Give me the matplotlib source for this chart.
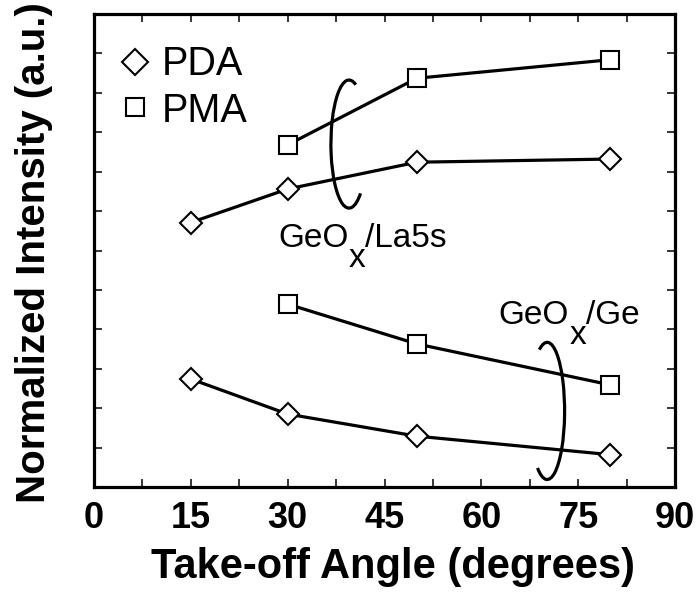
import matplotlib
matplotlib.use("Agg")
import matplotlib.pyplot as plt
from matplotlib.patches import Arc

plt.rcParams["font.family"] = ["Liberation Sans", "DejaVu Sans"]

# Take-off angle (degrees)
angle_pda = [15, 30, 50, 80]
angle_pma = [30, 50, 80]

# GeOx/La5s intensity ratio
la_pda = [6.71, 7.56, 8.24, 8.32]
la_pma = [8.68, 10.37, 10.84]

# GeOx/Ge intensity ratio
ge_pda = [2.74, 1.85, 1.29, 0.82]
ge_pma = [4.64, 3.63, 2.59]

xticks = [0, 15, 30, 45, 60, 75, 90]

fig = plt.figure(figsize=(6.98, 5.94), dpi=100)
ax = fig.add_axes([94 / 698, 1 - 487 / 594, 581 / 698, 473 / 594])

lw = 2.3
dia = dict(marker="D", ms=11.2, mfc="white", mec="black", mew=1.5, color="black")
sq = dict(marker="s", ms=12.3, mfc="white", mec="black", mew=1.5, color="black")

ax.plot(angle_pda, la_pda, lw=lw, zorder=3, **dia)
ax.plot(angle_pma, la_pma, lw=lw, zorder=3, **sq)
ax.plot(angle_pda, ge_pda, lw=lw, zorder=3, **dia)
ax.plot(angle_pma, ge_pma, lw=lw, zorder=3, **sq)

# Grouping ellipses
ax.add_patch(Arc((39.5, 8.7), 5.6, 3.25, theta1=55, theta2=325,
                 lw=lw, color="black", zorder=2))
ax.add_patch(Arc((70.2, 1.93), 5.4, 3.48, theta1=-136, theta2=128,
                 lw=lw, color="black", zorder=2))


def chem_label(x, y, head, sub, tail, size):
    """Write head + lowered full-size subscript + tail on one baseline."""
    t1 = ax.text(x, y, head, fontsize=size, ha="left", va="baseline")
    t2 = ax.annotate(sub, xy=(1, 0), xycoords=t1, xytext=(0, -14.4),
                     textcoords="offset points", fontsize=size,
                     ha="left", va="bottom")
    ax.annotate(tail, xy=(1, 0), xycoords=(t2, t1), fontsize=size,
                ha="left", va="bottom")


chem_label(28.5, 6.10, "GeO", "x", "/La5s", 24)
chem_label(62.7, 4.13, "GeO", "x", "/Ge", 24)

# Legend drawn as marker + label pairs
ax.plot([6.35], [10.78], lw=0, **{**dia, "ms": 13.6})
ax.text(10.53, 10.45, "PDA", fontsize=28.5, ha="left", va="baseline")
ax.plot([6.35], [9.63], lw=0, **sq)
ax.text(10.53, 9.26, "PMA", fontsize=28.5, ha="left", va="baseline")

ax.set_xlim(0, 90)
ax.set_ylim(0, 12)
ax.set_xticks(xticks)
ax.set_xticks([7.5, 22.5, 37.5, 52.5, 67.5, 82.5], minor=True)
ax.set_yticks(range(0, 13))
ax.set_yticklabels([])
ax.set_xticklabels([str(t) for t in xticks], fontsize=26, fontweight="bold")
ax.tick_params(axis="both", which="both", direction="in", top=True, right=True,
               length=5.5, width=1.1, pad=10)
for s in ax.spines.values():
    s.set_linewidth(2.3)

ax.set_xlabel("Take-off Angle (degrees)", fontsize=30, fontweight="bold")
ax.xaxis.set_label_coords(0.515, -0.127)
ax.set_ylabel("Normalized Intensity (a.u.)", fontsize=29, fontweight="bold")
ax.yaxis.set_label_coords(-0.0714, 0.495)

fig.savefig("out.png", dpi=100)
